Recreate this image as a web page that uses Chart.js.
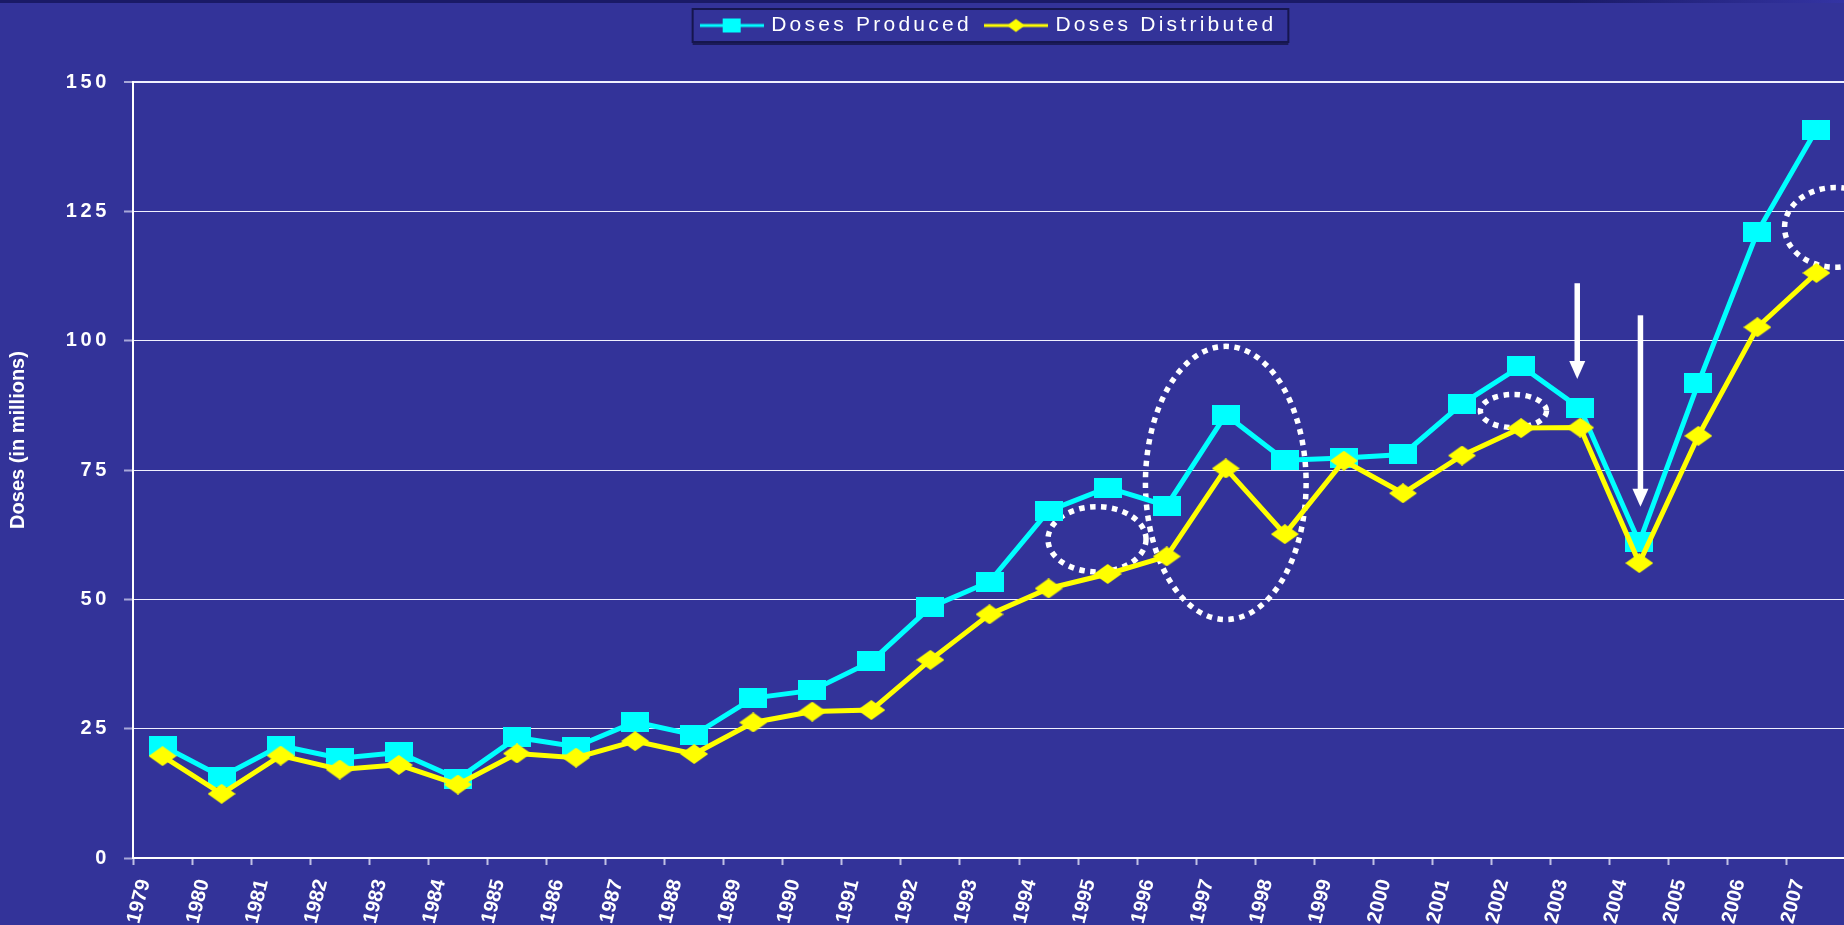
<!DOCTYPE html>
<html><head><meta charset="utf-8">
<script src="https://cdn.jsdelivr.net/npm/chart.js@4.4.1/dist/chart.umd.min.js"></script>
<style>
html,body{margin:0;padding:0;overflow:hidden;background:#333399;width:1844px;height:925px;}
#wrap{position:absolute;left:0;top:0;width:1979px;height:925px;}
#band{position:absolute;left:0;top:0;width:1844px;height:3px;background:linear-gradient(to right,#1a1a66 0%,#1a1a66 85%,#3434a4 100%);z-index:2}
</style></head><body>
<div id="wrap"><canvas id="c" width="1979" height="925" style="width:1979px;height:925px"></canvas></div>
<div id="band"></div>
<script>
// ---- data ----
const years = ['1979','1980','1981','1982','1983','1984','1985','1986','1987','1988','1989','1990','1991','1992','1993','1994','1995','1996','1997','1998','1999','2000','2001','2002','2003','2004','2005','2006','2007'];
const dosesProduced = [21.7,15.7,21.7,19.3,20.4,15.3,23.3,21.5,26.3,23.8,30.9,32.4,38.0,48.5,53.4,67.1,71.6,68.1,85.7,76.9,77.3,78.0,87.8,95.1,86.9,61.0,91.8,121.0,140.8];
const dosesDistributed = [19.7,12.4,19.8,17.1,18.0,14.2,20.2,19.4,22.6,20.1,26.2,28.3,28.6,38.3,47.1,52.1,54.9,58.3,75.3,62.6,76.8,70.5,77.8,83.1,83.2,57.0,81.6,102.6,113.1];
const seriesNames = ['Doses Produced','Doses Distributed'];
const yTickStep = 25, yMin = 0, yMax = 150;
const axisTitle = 'Doses (in millions)';
// annotation highlights (category index / value units)
const ellipseX = [15.82, 18.0, 22.87, 28.32];
const ellipseY = [61.6, 72.5, 86.4, 121.9];
const ellipseRX = [0.83, 1.36, 0.56, 0.86];
const ellipseRY = [6.3, 26.4, 3.2, 7.7];
const arrowX = [23.95, 25.02];
const arrowTop = [111.1, 104.9];
const arrowTip = [92.6, 67.9];

const FONT = "'Liberation Sans', Arial, sans-serif";
const CYAN = '#00ffff', YELLOW = '#ffff00';

function makeRect(w,h,color){const c=document.createElement('canvas');c.width=w;c.height=h;const g=c.getContext('2d');g.fillStyle=color;g.fillRect(0,0,w,h);return c;}
function makeDiamond(w,h,color){const c=document.createElement('canvas');c.width=w;c.height=h;const g=c.getContext('2d');g.fillStyle=color;g.beginPath();g.moveTo(w/2,0);g.lineTo(w,h/2);g.lineTo(w/2,h);g.lineTo(0,h/2);g.closePath();g.fill();return c;}
function makeLegendIcon(kind,color){const w=64,h=16;const c=document.createElement('canvas');c.width=w;c.height=h;const g=c.getContext('2d');g.fillStyle=color;g.fillRect(0,h/2-1.5,w,3);
 if(kind==='rect'){g.fillRect(w/2-9,1,18,14);}else{g.beginPath();g.moveTo(w/2,1.5);g.lineTo(w/2+9,h/2);g.lineTo(w/2,h-1.5);g.lineTo(w/2-9,h/2);g.closePath();g.fill();}
 return c;}
const markerRect = makeRect(28,20,CYAN);
const markerDiamond = makeDiamond(28,20,YELLOW);
const legendIcons = [makeLegendIcon('rect',CYAN), makeLegendIcon('diamond',YELLOW)];

function wrapDraw(obj,name,spacing,dy){
  if(obj['_ns_'+name]) return;
  const o=obj[name];
  obj[name]=function(...a){const c=this.ctx;c.save();c.letterSpacing=spacing;if(dy)c.translate(0,dy);const r=o.apply(this,a);c.restore();return r;};
  obj['_ns_'+name]=true;
}

const SPACING='3.6px';
const LEGEND_SPACING='3.25px';
const stylePlugin = {
  id:'style',
  afterInit(chart){
    const lg=chart.legend;
    if(lg && !lg._fitWrapped){
      const f=lg.fit;
      lg.fit=function(){const c=this.ctx;const p=c.letterSpacing;c.letterSpacing=LEGEND_SPACING;f.call(this);c.letterSpacing=p;this.height=82;};
      lg._fitWrapped=true;
      wrapDraw(lg,'draw',LEGEND_SPACING,0);
    }
  },
  beforeLayout(chart){chart.ctx.letterSpacing=SPACING;},
  afterLayout(chart){wrapDraw(chart.scales.x,'drawLabels','0px',0);wrapDraw(chart.scales.y,'drawTitle','0px',-30);},
  beforeDraw(chart){chart.ctx.letterSpacing=SPACING;},
  beforeDatasetsDraw(chart){
    const {ctx,scales:{x,y}}=chart;
    const cw=x.getPixelForValue(1)-x.getPixelForValue(0);
    ctx.save();
    ctx.strokeStyle='#ffffff';ctx.lineWidth=5.5;ctx.setLineDash([5.5,5.5]);
    ellipseX.forEach((ex,i)=>{
      const cx=x.getPixelForValue(ex),cy=y.getPixelForValue(ellipseY[i]);
      const rx=ellipseRX[i]*cw,ry=Math.abs(y.getPixelForValue(0)-y.getPixelForValue(ellipseRY[i]));
      ctx.beginPath();ctx.ellipse(cx,cy,rx,ry,0,0,Math.PI*2);ctx.stroke();
    });
    ctx.restore();
  },
  afterDatasetsDraw(chart){
    const {ctx,scales:{x,y}}=chart;
    ctx.save();ctx.fillStyle='#ffffff';
    arrowX.forEach((ax0,i)=>{
      const ax=x.getPixelForValue(ax0),y1=y.getPixelForValue(arrowTop[i]),y2=y.getPixelForValue(arrowTip[i]);
      ctx.fillRect(ax-2.75,y1,5.5,(y2-y1)-16);
      ctx.beginPath();ctx.moveTo(ax-8,y2-18);ctx.lineTo(ax+8,y2-18);ctx.lineTo(ax,y2);ctx.closePath();ctx.fill();
    });
    ctx.restore();
  },
  afterDraw(chart){
    const lg=chart.legend;if(!lg||!lg.legendHitBoxes||!lg.legendHitBoxes.length)return;
    const hb=lg.legendHitBoxes;const ctx=chart.ctx;
    const left=hb[0].left-10,right=hb[hb.length-1].left+hb[hb.length-1].width+12;
    const top=hb[0].top-6,bottom=hb[0].top+hb[0].height+6;
    ctx.save();ctx.strokeStyle='#16164e';ctx.lineWidth=2;ctx.strokeRect(left,top,right-left,bottom-top);
    ctx.fillStyle='#1b1b58';ctx.fillRect(left,bottom+1,right-left,2);ctx.restore();
  }
};

new Chart(document.getElementById('c'),{
  type:'line',
  data:{labels:years,datasets:[
    {label:seriesNames[0],data:dosesProduced,borderColor:CYAN,backgroundColor:CYAN,borderWidth:5,pointStyle:markerRect,pointRadius:10,order:1,tension:0},
    {label:seriesNames[1],data:dosesDistributed,borderColor:YELLOW,backgroundColor:YELLOW,borderWidth:5,pointStyle:markerDiamond,pointRadius:10,order:0,tension:0}
  ]},
  options:{
    responsive:false,animation:false,events:[],
    layout:{padding:{left:0,right:0,top:0,bottom:0}},
    plugins:{
      tooltip:{enabled:false},
      legend:{display:true,position:'top',align:'center',
        labels:{usePointStyle:true,pointStyleWidth:58,padding:15,color:'#ffffff',font:{family:FONT,size:21,weight:'normal'},
          sort:(a,b)=>a.datasetIndex-b.datasetIndex,
          generateLabels(chart){const items=Chart.defaults.plugins.legend.labels.generateLabels(chart);items.forEach((it)=>{it.pointStyle=legendIcons[it.datasetIndex];});return items;}}}
    },
    scales:{
      x:{type:'category',offset:true,
        grid:{offset:true,drawOnChartArea:false,drawTicks:true,tickLength:7,tickColor:'#c0c0e4',tickWidth:2},
        border:{display:true,color:'#ffffff',width:2},
        ticks:{color:'#ffffff',font:{family:FONT,size:20,weight:'bold'},minRotation:76,maxRotation:76,autoSkip:false,labelOffset:-18,padding:12},
        afterFit(s){s.height=67;}},
      y:{min:yMin,max:yMax,
        ticks:{stepSize:yTickStep,color:'#ffffff',font:{family:FONT,size:20,weight:'bold'},padding:14},
        grid:{color:'#f0f0ff',lineWidth:(c)=>(c.tick&&c.tick.value===yMax)?2:1,drawTicks:true,tickLength:9,tickColor:'#a8a8d8',tickWidth:2},
        border:{display:true,color:'#ffffff',width:2},
        title:{display:true,text:axisTitle,color:'#ffffff',font:{family:FONT,size:20,weight:'bold'},padding:{top:6,bottom:0}},
        afterFit(s){s.width=133;}},
      yRight:{position:'right',display:true,min:0,max:1,
        grid:{display:false,drawOnChartArea:false},border:{display:false},ticks:{display:false},
        afterFit(s){s.width=133;}}
    }
  },
  plugins:[stylePlugin]
});
</script>
</body></html>
